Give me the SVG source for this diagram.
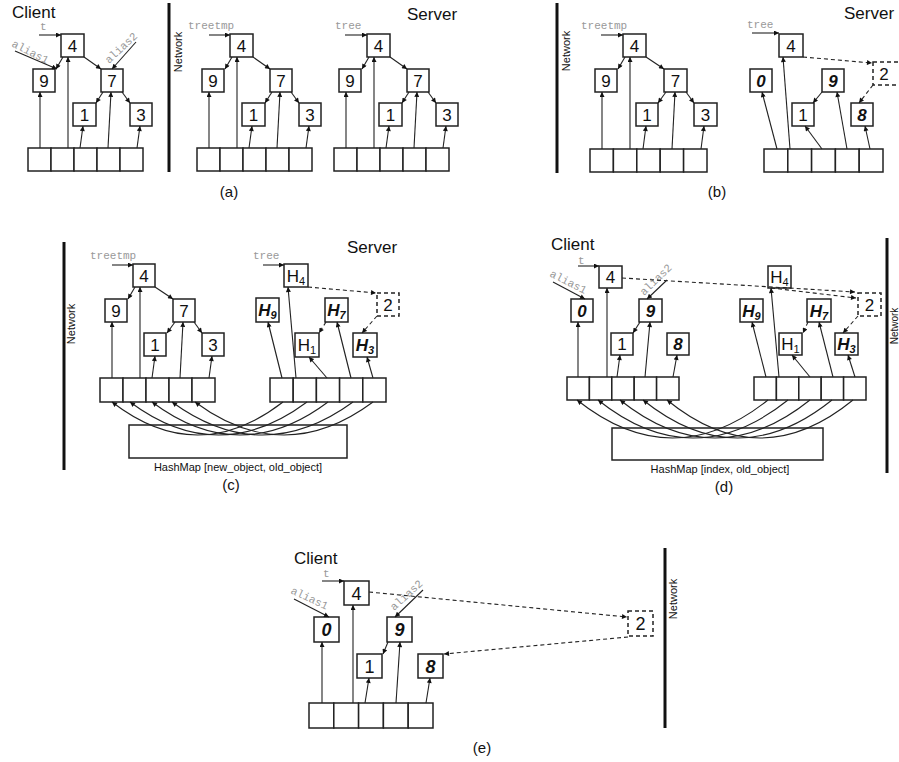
<svg xmlns="http://www.w3.org/2000/svg" width="899" height="762" viewBox="0 0 899 762">
<defs>
<marker id="ah" viewBox="0 0 10 10" refX="10" refY="5" markerWidth="6" markerHeight="5" markerUnits="userSpaceOnUse" orient="auto"><path d="M0,0 L10,5 L0,10 z" fill="#111"/></marker>
</defs>
<style>
.box{fill:#fff;stroke:#222;stroke-width:1.5}
.dbox{fill:#fff;stroke:#222;stroke-width:1.5;stroke-dasharray:4,3}
.cell{fill:#fff;stroke:#222;stroke-width:1.5}
.num{font-family:"Liberation Sans",Arial,sans-serif;font-size:17px;text-anchor:middle;fill:#111}
.bi{font-weight:bold;font-style:italic}
.sub{font-size:11px}
.lbl{font-family:"Liberation Mono","Courier New",monospace;font-size:11px;fill:#999}
.e{stroke:#222;stroke-width:1.1;fill:none;marker-end:url(#ah)}
.d{stroke:#222;stroke-width:1.1;fill:none;stroke-dasharray:4,3;marker-end:url(#ah)}
.net{stroke:#111;stroke-width:3}
.nett{font-family:"Liberation Sans",Arial,sans-serif;font-size:11px;text-anchor:middle;fill:#111}
.ttl{font-family:"Liberation Sans",Arial,sans-serif;font-size:17px;fill:#111}
.cap{font-family:"Liberation Sans",Arial,sans-serif;font-size:15px;text-anchor:middle;fill:#111}
.hm{font-family:"Liberation Sans",Arial,sans-serif;font-size:11px;text-anchor:middle;fill:#111}
</style>
<rect width="899" height="762" fill="#fff"/>

<!-- titles and captions -->
<g id="titles">
<text class="ttl" x="12" y="18">Client</text>
<text class="ttl" x="407" y="20">Server</text>
<text class="ttl" x="844" y="19">Server</text>
<text class="ttl" x="347" y="253">Server</text>
<text class="ttl" x="551" y="250">Client</text>
<text class="ttl" x="294" y="564">Client</text>
<text class="cap" x="229" y="197">(a)</text>
<text class="cap" x="717" y="197">(b)</text>
<text class="cap" x="231" y="490">(c)</text>
<text class="cap" x="724" y="492">(d)</text>
<text class="cap" x="482" y="753">(e)</text>
</g>

<!-- network separators -->
<g id="network">
<line class="net" x1="169" y1="3" x2="169" y2="172"/>
<text class="nett" transform="translate(182,52) rotate(-90)">Network</text>
<line class="net" x1="557" y1="3" x2="557" y2="173"/>
<text class="nett" transform="translate(570,51) rotate(-90)">Network</text>
<line class="net" x1="64" y1="242" x2="64" y2="470"/>
<text class="nett" transform="translate(75,324) rotate(-90)">Network</text>
<line class="net" x1="887" y1="238" x2="887" y2="473"/>
<text class="nett" style="font-size:10px" transform="translate(897.5,326) rotate(-90)">Network</text>
<line class="net" x1="665" y1="548" x2="665" y2="728"/>
<text class="nett" transform="translate(677,599) rotate(-90)">Network</text>
</g>

<!-- variable labels -->
<g id="labels">
<text class="lbl" x="40" y="30">t</text>
<text class="lbl" transform="translate(11,46) rotate(27)">alias1</text>
<text class="lbl" transform="translate(109,64) rotate(-43)">alias2</text>
<text class="lbl" x="188" y="29">treetmp</text>
<text class="lbl" x="335" y="29">tree</text>
<text class="lbl" x="581" y="29">treetmp</text>
<text class="lbl" x="747" y="28">tree</text>
<text class="lbl" x="90" y="259">treetmp</text>
<text class="lbl" x="253" y="259">tree</text>
<text class="lbl" x="578" y="264">t</text>
<text class="lbl" transform="translate(549,276) rotate(27)">alias1</text>
<text class="lbl" transform="translate(644,296) rotate(-44)">alias2</text>
<text class="lbl" x="323" y="577">t</text>
<text class="lbl" transform="translate(290,593) rotate(25)">alias1</text>
<text class="lbl" transform="translate(394,611) rotate(-42)">alias2</text>
<text class="hm" x="238" y="471">HashMap [new_object, old_object]</text>
<text class="hm" x="720" y="473">HashMap [index, old_object]</text>
</g>

<!-- ===== nodes (a) client ===== -->
<g id="a1-4"><rect class="box" x="61" y="34" width="23" height="23"/><text class="num" x="72.5" y="52">4</text></g>
<g id="a1-9"><rect class="box" x="33" y="69" width="22" height="23"/><text class="num" x="44" y="87">9</text></g>
<g id="a1-7"><rect class="box" x="101" y="69" width="22" height="23"/><text class="num" x="112" y="87">7</text></g>
<g id="a1-1"><rect class="box" x="73" y="103" width="23" height="23"/><text class="num" x="84.5" y="121">1</text></g>
<g id="a1-3"><rect class="box" x="130" y="103" width="22" height="23"/><text class="num" x="141" y="121">3</text></g>
<g id="a1-arr"><rect class="cell" x="28" y="148" width="23" height="23"/><rect class="cell" x="51" y="148" width="23" height="23"/><rect class="cell" x="74" y="148" width="23" height="23"/><rect class="cell" x="97" y="148" width="23" height="23"/><rect class="cell" x="120" y="148" width="23" height="23"/></g>

<!-- (a) treetmp -->
<g id="a2-4"><rect class="box" x="230" y="34" width="23" height="23"/><text class="num" x="241.5" y="52">4</text></g>
<g id="a2-9"><rect class="box" x="202" y="69" width="22" height="23"/><text class="num" x="213" y="87">9</text></g>
<g id="a2-7"><rect class="box" x="270" y="69" width="22" height="23"/><text class="num" x="281" y="87">7</text></g>
<g id="a2-1"><rect class="box" x="242" y="103" width="23" height="23"/><text class="num" x="253.5" y="121">1</text></g>
<g id="a2-3"><rect class="box" x="299" y="103" width="22" height="23"/><text class="num" x="310" y="121">3</text></g>
<g id="a2-arr"><rect class="cell" x="197" y="148" width="23" height="23"/><rect class="cell" x="220" y="148" width="23" height="23"/><rect class="cell" x="243" y="148" width="23" height="23"/><rect class="cell" x="266" y="148" width="23" height="23"/><rect class="cell" x="289" y="148" width="23" height="23"/></g>

<!-- (a) tree -->
<g id="a3-4"><rect class="box" x="367" y="34" width="23" height="23"/><text class="num" x="378.5" y="52">4</text></g>
<g id="a3-9"><rect class="box" x="339" y="69" width="22" height="23"/><text class="num" x="350" y="87">9</text></g>
<g id="a3-7"><rect class="box" x="407" y="69" width="22" height="23"/><text class="num" x="418" y="87">7</text></g>
<g id="a3-1"><rect class="box" x="379" y="103" width="23" height="23"/><text class="num" x="390.5" y="121">1</text></g>
<g id="a3-3"><rect class="box" x="436" y="103" width="22" height="23"/><text class="num" x="447" y="121">3</text></g>
<g id="a3-arr"><rect class="cell" x="334" y="148" width="23" height="23"/><rect class="cell" x="357" y="148" width="23" height="23"/><rect class="cell" x="380" y="148" width="23" height="23"/><rect class="cell" x="403" y="148" width="23" height="23"/><rect class="cell" x="426" y="148" width="23" height="23"/></g>

<!-- (b) treetmp -->
<g id="b1-4"><rect class="box" x="623" y="34" width="23" height="23"/><text class="num" x="634.5" y="52">4</text></g>
<g id="b1-9"><rect class="box" x="595" y="69" width="22" height="23"/><text class="num" x="606" y="87">9</text></g>
<g id="b1-7"><rect class="box" x="664" y="69" width="23" height="23"/><text class="num" x="675.5" y="87">7</text></g>
<g id="b1-1"><rect class="box" x="636" y="103" width="22" height="23"/><text class="num" x="647" y="121">1</text></g>
<g id="b1-3"><rect class="box" x="694" y="103" width="23" height="23"/><text class="num" x="705.5" y="121">3</text></g>
<g id="b1-arr"><rect class="cell" x="590" y="149" width="23.4" height="23"/><rect class="cell" x="613.4" y="149" width="23.4" height="23"/><rect class="cell" x="636.8" y="149" width="23.4" height="23"/><rect class="cell" x="660.2" y="149" width="23.4" height="23"/><rect class="cell" x="683.6" y="149" width="23.4" height="23"/></g>

<!-- (b) tree -->
<g id="b2-4"><rect class="box" x="779" y="34" width="24" height="23"/><text class="num" x="791" y="52">4</text></g>
<g id="b2-0"><rect class="box" x="750" y="69" width="22" height="23"/><text class="num bi" x="761" y="87">0</text></g>
<g id="b2-9"><rect class="box" x="822" y="69" width="22" height="23"/><text class="num bi" x="833" y="87">9</text></g>
<g id="b2-1"><rect class="box" x="792" y="103" width="22" height="23"/><text class="num" x="803" y="121">1</text></g>
<g id="b2-8"><rect class="box" x="851" y="103" width="22" height="23"/><text class="num bi" x="862" y="121">8</text></g>
<g id="b2-2"><rect class="dbox" x="873" y="62" width="28" height="23"/><text class="num" x="884" y="80">2</text></g>
<g id="b2-arr"><rect class="cell" x="764" y="149" width="23.8" height="23"/><rect class="cell" x="787.8" y="149" width="23.8" height="23"/><rect class="cell" x="811.6" y="149" width="23.8" height="23"/><rect class="cell" x="835.4" y="149" width="23.8" height="23"/><rect class="cell" x="859.2" y="149" width="23.8" height="23"/></g>

<!-- (c) treetmp -->
<g id="c1-4"><rect class="box" x="133" y="264" width="22" height="23"/><text class="num" x="144" y="282">4</text></g>
<g id="c1-9"><rect class="box" x="105" y="299" width="22" height="23"/><text class="num" x="116" y="317">9</text></g>
<g id="c1-7"><rect class="box" x="173" y="299" width="22" height="23"/><text class="num" x="184" y="317">7</text></g>
<g id="c1-1"><rect class="box" x="144" y="333" width="22" height="23"/><text class="num" x="155" y="351">1</text></g>
<g id="c1-3"><rect class="box" x="202" y="333" width="22" height="23"/><text class="num" x="213" y="351">3</text></g>
<g id="c1-arr"><rect class="cell" x="100" y="378" width="23" height="24"/><rect class="cell" x="123" y="378" width="23" height="24"/><rect class="cell" x="146" y="378" width="23" height="24"/><rect class="cell" x="169" y="378" width="23" height="24"/><rect class="cell" x="192" y="378" width="23" height="24"/></g>

<!-- (c) tree -->
<g id="c2-h4"><rect class="box" x="284" y="264" width="24" height="23"/><text class="num" x="296" y="282">H<tspan class="sub" dy="3">4</tspan></text></g>
<g id="c2-h9"><rect class="box" x="256" y="298" width="23" height="24"/><text class="num bi" x="267.5" y="316">H<tspan class="sub" dy="3">9</tspan></text></g>
<g id="c2-h7"><rect class="box" x="325" y="298" width="23" height="24"/><text class="num bi" x="336.5" y="316">H<tspan class="sub" dy="3">7</tspan></text></g>
<g id="c2-2"><rect class="dbox" x="377" y="293" width="22" height="23"/><text class="num" x="388" y="311">2</text></g>
<g id="c2-h1"><rect class="box" x="295" y="333" width="24" height="24"/><text class="num" x="307" y="351">H<tspan class="sub" dy="3">1</tspan></text></g>
<g id="c2-h3"><rect class="box" x="353" y="333" width="24" height="24"/><text class="num bi" x="365" y="351">H<tspan class="sub" dy="3">3</tspan></text></g>
<g id="c2-arr"><rect class="cell" x="270" y="378" width="23.2" height="24"/><rect class="cell" x="293.2" y="378" width="23.2" height="24"/><rect class="cell" x="316.4" y="378" width="23.2" height="24"/><rect class="cell" x="339.6" y="378" width="23.2" height="24"/><rect class="cell" x="362.8" y="378" width="23.2" height="24"/></g>
<g id="c-hashmap"><rect class="cell" x="129" y="425" width="218" height="33"/></g>

<!-- (d) client -->
<g id="d1-4"><rect class="box" x="599" y="266" width="23" height="22"/><text class="num" x="610.5" y="283">4</text></g>
<g id="d1-0"><rect class="box" x="571" y="299" width="22" height="23"/><text class="num bi" x="582" y="317">0</text></g>
<g id="d1-9"><rect class="box" x="639" y="299" width="23" height="23"/><text class="num bi" x="650.5" y="317">9</text></g>
<g id="d1-1"><rect class="box" x="611" y="333" width="22" height="22"/><text class="num" x="622" y="350">1</text></g>
<g id="d1-8"><rect class="box" x="667" y="333" width="22" height="22"/><text class="num bi" x="678" y="350">8</text></g>
<g id="d1-arr"><rect class="cell" x="567" y="377" width="22.4" height="23"/><rect class="cell" x="589.4" y="377" width="22.4" height="23"/><rect class="cell" x="611.8" y="377" width="22.4" height="23"/><rect class="cell" x="634.2" y="377" width="22.4" height="23"/><rect class="cell" x="656.6" y="377" width="22.4" height="23"/></g>

<!-- (d) server copy -->
<g id="d2-h4"><rect class="box" x="768" y="266" width="23" height="22"/><text class="num" x="779.5" y="283">H<tspan class="sub" dy="3">4</tspan></text></g>
<g id="d2-h9"><rect class="box" x="740" y="299" width="23" height="23"/><text class="num bi" x="751.5" y="317">H<tspan class="sub" dy="3">9</tspan></text></g>
<g id="d2-h7"><rect class="box" x="807" y="299" width="24" height="23"/><text class="num bi" x="819" y="317">H<tspan class="sub" dy="3">7</tspan></text></g>
<g id="d2-2"><rect class="dbox" x="858" y="293" width="23" height="23"/><text class="num" x="869.5" y="311">2</text></g>
<g id="d2-h1"><rect class="box" x="779" y="333" width="23" height="22"/><text class="num" x="790.5" y="350">H<tspan class="sub" dy="3">1</tspan></text></g>
<g id="d2-h3"><rect class="box" x="835" y="333" width="23" height="22"/><text class="num bi" x="846.5" y="350">H<tspan class="sub" dy="3">3</tspan></text></g>
<g id="d2-arr"><rect class="cell" x="754" y="377" width="22.4" height="23"/><rect class="cell" x="776.4" y="377" width="22.4" height="23"/><rect class="cell" x="798.8" y="377" width="22.4" height="23"/><rect class="cell" x="821.2" y="377" width="22.4" height="23"/><rect class="cell" x="843.6" y="377" width="22.4" height="23"/></g>
<g id="d-hashmap"><rect class="cell" x="612" y="428" width="211" height="32"/></g>

<!-- (e) client -->
<g id="e-4"><rect class="box" x="344" y="581" width="25" height="24"/><text class="num" x="356.5" y="600" style="font-size:18px">4</text></g>
<g id="e-0"><rect class="box" x="314" y="617" width="25" height="25"/><text class="num bi" x="326.5" y="636" style="font-size:18px">0</text></g>
<g id="e-9"><rect class="box" x="387" y="617" width="25" height="25"/><text class="num bi" x="399.5" y="636" style="font-size:18px">9</text></g>
<g id="e-1"><rect class="box" x="357" y="654" width="25" height="24"/><text class="num" x="369.5" y="672.5" style="font-size:18px">1</text></g>
<g id="e-8"><rect class="box" x="418" y="654" width="25" height="24"/><text class="num bi" x="430.5" y="672.5" style="font-size:18px">8</text></g>
<g id="e-2"><rect class="dbox" x="628" y="611" width="25" height="25"/><text class="num" x="640.5" y="630" style="font-size:18px">2</text></g>
<g id="e-arr"><rect class="cell" x="309" y="703" width="24.8" height="25"/><rect class="cell" x="333.8" y="703" width="24.8" height="25"/><rect class="cell" x="358.6" y="703" width="24.8" height="25"/><rect class="cell" x="383.4" y="703" width="24.8" height="25"/><rect class="cell" x="408.2" y="703" width="24.8" height="25"/></g>

<!-- ===== connectors ===== -->
<g id="connectors">
<!-- (a) client -->
<path class="e" d="M39,35 L61,35"/>
<path class="e" d="M15,51 L57,69"/>
<path class="e" d="M136,42 L112,69"/>
<path class="e" d="M63,57 L56,69"/>
<path class="e" d="M84,57 L101,69"/>
<path class="e" d="M103,92 L96,103"/>
<path class="e" d="M122,92 L130,103"/>
<path class="e" d="M40,148 L40,92"/>
<path class="e" d="M68,148 L68,57"/>
<path class="e" d="M80,148 L83,126"/>
<path class="e" d="M108,148 L111,92"/>
<path class="e" d="M137,148 L140,126"/>
<!-- (a) treetmp -->
<path class="e" d="M209,35 L230,35"/>
<path class="e" d="M232,57 L225,69"/>
<path class="e" d="M253,57 L270,69"/>
<path class="e" d="M272,92 L265,103"/>
<path class="e" d="M291,92 L299,103"/>
<path class="e" d="M209,148 L209,92"/>
<path class="e" d="M237,148 L237,57"/>
<path class="e" d="M249,148 L252,126"/>
<path class="e" d="M277,148 L280,92"/>
<path class="e" d="M306,148 L309,126"/>
<!-- (a) tree -->
<path class="e" d="M345,35 L367,35"/>
<path class="e" d="M369,57 L362,69"/>
<path class="e" d="M390,57 L407,69"/>
<path class="e" d="M409,92 L402,103"/>
<path class="e" d="M428,92 L436,103"/>
<path class="e" d="M346,148 L346,92"/>
<path class="e" d="M374,148 L374,57"/>
<path class="e" d="M386,148 L389,126"/>
<path class="e" d="M414,148 L417,92"/>
<path class="e" d="M443,148 L446,126"/>
<!-- (b) treetmp -->
<path class="e" d="M601,35 L623,35"/>
<path class="e" d="M625,57 L618,69"/>
<path class="e" d="M646,57 L664,69"/>
<path class="e" d="M666,92 L658,103"/>
<path class="e" d="M686,92 L694,103"/>
<path class="e" d="M602,149 L602,92"/>
<path class="e" d="M630,149 L630,57"/>
<path class="e" d="M643,149 L646,126"/>
<path class="e" d="M672,149 L675,92"/>
<path class="e" d="M701,149 L704,126"/>
<!-- (b) tree -->
<path class="e" d="M752,33 L779,33"/>
<path class="d" d="M803,57 L872,63"/>
<path class="d" d="M873,85 L859,103"/>
<path class="e" d="M822,92 L813,103"/>
<path class="e" d="M777,149 L762,92"/>
<path class="e" d="M790,149 L783,57"/>
<path class="e" d="M822,149 L805,126"/>
<path class="e" d="M847,149 L837,92"/>
<path class="e" d="M870,149 L865,126"/>
<!-- (c) treetmp -->
<path class="e" d="M112,265 L133,265"/>
<path class="e" d="M135,287 L128,299"/>
<path class="e" d="M155,287 L173,299"/>
<path class="e" d="M175,322 L167,333"/>
<path class="e" d="M194,322 L202,333"/>
<path class="e" d="M112,378 L112,322"/>
<path class="e" d="M140,378 L140,287"/>
<path class="e" d="M152,378 L155,356"/>
<path class="e" d="M180,378 L183,322"/>
<path class="e" d="M209,378 L212,356"/>
<!-- (c) tree -->
<path class="e" d="M263,265 L284,265"/>
<path class="d" d="M308,287 L376,293"/>
<path class="d" d="M377,316 L362,333"/>
<path class="d" d="M326,322 L319,333"/>
<path class="e" d="M282,378 L268,322"/>
<path class="e" d="M296,378 L288,287"/>
<path class="e" d="M327,378 L309,357"/>
<path class="e" d="M351,378 L337,322"/>
<path class="e" d="M373,378 L367,357"/>
<!-- (c) hashmap arcs -->
<path class="e" d="M283,402 Q197.5,468 112,402"/>
<path class="e" d="M307,402 Q218.5,468 130,402"/>
<path class="e" d="M328,402 Q240,468 152,402"/>
<path class="e" d="M353,402 Q262.5,468 172,402"/>
<path class="e" d="M373,402 Q284,468 195,402"/>
<!-- (d) client -->
<path class="e" d="M578,266 L599,266"/>
<path class="e" d="M553,282 L585,299"/>
<path class="e" d="M667,280 L647,299"/>
<path class="d" d="M622,278 L855,292"/>
<path class="e" d="M640,322 L633,333"/>
<path class="e" d="M578,377 L578,322"/>
<path class="e" d="M607,377 L607,288"/>
<path class="e" d="M617,377 L620,355"/>
<path class="e" d="M645,377 L650,322"/>
<path class="e" d="M673,377 L677,355"/>
<!-- (d) server copy -->
<path class="d" d="M771,288 L856,298"/>
<path class="d" d="M858,316 L843,333"/>
<path class="d" d="M808,322 L803,333"/>
<path class="e" d="M766,377 L752,322"/>
<path class="e" d="M779,377 L771,288"/>
<path class="e" d="M810,377 L792,355"/>
<path class="e" d="M833,377 L819,322"/>
<path class="e" d="M855,377 L848,355"/>
<!-- (d) hashmap arcs -->
<path class="e" d="M768,400 Q672.5,476 577,400"/>
<path class="e" d="M788,400 Q693,476 598,400"/>
<path class="e" d="M810,400 Q715,476 620,400"/>
<path class="e" d="M832,400 Q737.5,476 643,400"/>
<path class="e" d="M853,400 Q760,476 667,400"/>
<!-- (e) -->
<path class="e" d="M322,581 L344,581"/>
<path class="e" d="M294,599 L329,617"/>
<path class="e" d="M423,590 L395,617"/>
<path class="d" d="M369,592 L627,617"/>
<path class="d" d="M628,637 L444,654"/>
<path class="e" d="M388,642 L383,654"/>
<path class="e" d="M322,703 L322,642"/>
<path class="e" d="M353,703 L353,605"/>
<path class="e" d="M365,703 L369,678"/>
<path class="e" d="M396,703 L400,642"/>
<path class="e" d="M426,703 L430,678"/>
</g>
</svg>
